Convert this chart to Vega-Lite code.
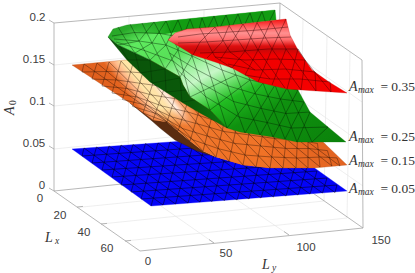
{"$schema":"https://vega.github.io/schema/vega-lite/v6.json","width":415,"height":273,"padding":0,"autosize":{"type":"none"},"background":"white","config":{"view":{"stroke":null}},
"encoding":{"x":{"field":"h","type":"quantitative","scale":{"domain":[0,415],"nice":false,"zero":false},"axis":null},"y":{"field":"v","type":"quantitative","scale":{"domain":[273,0],"nice":false,"zero":false},"axis":null}},
"layer":[
{"data":{"name":"wallgrid"},"mark":{"type":"rule","color":"#e6e6e6","strokeWidth":0.7},"encoding":{"x2":{"field":"h2"},"y2":{"field":"v2"}}},
{"data":{"name":"box"},"mark":{"type":"rule","color":"#a6a6a6","strokeWidth":0.8},"encoding":{"x2":{"field":"h2"},"y2":{"field":"v2"}}},
{"data":{"name":"ticks"},"mark":{"type":"text","font":"Liberation Sans","fontSize":11.5,"color":"#404040","baseline":"middle","align":"center"},"encoding":{"text":{"field":"t"}}},
{"data":{"name":"sBlue"},"mark":{"type":"line","fill":"#0404F8","stroke":"#0404F8","strokeWidth":0.3,"interpolate":"linear-closed"},"encoding":{"order":{"field":"o"}}},
{"data":{"name":"mBlue"},"mark":{"type":"rule","color":"#000000","opacity":0.8,"strokeWidth":0.6},"encoding":{"x2":{"field":"h2"},"y2":{"field":"v2"}}},
{"data":{"name":"sBrown"},"mark":{"type":"line","fill":"#5A2C10","stroke":"#3a1c0a","strokeWidth":0.4,"interpolate":"linear-closed"},"encoding":{"order":{"field":"o"}}},
{"data":{"name":"sOrange"},"mark":{"type":"line","stroke":"#b04a14","strokeWidth":0.3,"interpolate":"linear-closed","fill":{"gradient":"linear","x1":0,"y1":0.3,"x2":1,"y2":0,"stops":[{"offset":0,"color":"#D5561A"},{"offset":0.18,"color":"#E5641F"},{"offset":0.22,"color":"#FFB98A"},{"offset":0.25,"color":"#FFE6A6"},{"offset":0.28,"color":"#FFE3A8"},{"offset":0.31,"color":"#FFEBDD"},{"offset":0.335,"color":"#F9A468"},{"offset":0.37,"color":"#F27A30"},{"offset":0.5,"color":"#EE6E24"},{"offset":1,"color":"#D5561B"}]}},"encoding":{"order":{"field":"o"}}},
{"data":{"name":"sOrangeLow"},"mark":{"type":"line","strokeWidth":0,"interpolate":"linear-closed","fill":{"gradient":"linear","x1":0,"y1":0,"x2":0,"y2":1,"stops":[{"offset":0,"color":"rgba(240,118,42,0)"},{"offset":0.3,"color":"rgba(240,118,42,0.95)"},{"offset":1,"color":"rgba(240,112,36,1)"}]}},"encoding":{"order":{"field":"o"}}},
{"data":{"name":"mOrange"},"mark":{"type":"rule","color":"#2a1005","opacity":0.75,"strokeWidth":0.55},"encoding":{"x2":{"field":"h2"},"y2":{"field":"v2"}}},
{"data":{"name":"sGreen"},"mark":{"type":"line","stroke":"#0b7a0b","strokeWidth":0.3,"interpolate":"linear-closed","fill":{"gradient":"linear","x1":0,"y1":0,"x2":0.945,"y2":1.04,"stops":[{"offset":0,"color":"#22A022"},{"offset":0.115,"color":"#2AAA2A"},{"offset":0.19,"color":"#5FEA5F"},{"offset":0.31,"color":"#58E058"},{"offset":0.4,"color":"#A5F3A5"},{"offset":0.46,"color":"#C8F7C8"},{"offset":0.52,"color":"#7BE67B"},{"offset":0.6,"color":"#22BC22"},{"offset":0.72,"color":"#0F910F"},{"offset":1,"color":"#0B820B"}]}},"encoding":{"order":{"field":"o"}}},
{"data":{"name":"sStrip"},"mark":{"type":"line","strokeWidth":0,"interpolate":"linear-closed","fill":{"gradient":"linear","x1":0,"y1":0,"x2":1,"y2":0,"stops":[{"offset":0,"color":"rgba(18,156,18,0)"},{"offset":0.3,"color":"rgba(18,156,18,1)"},{"offset":1,"color":"rgba(18,156,18,1)"}]}},"encoding":{"order":{"field":"o"}}},
{"data":{"name":"mGreen"},"mark":{"type":"rule","color":"#002000","opacity":0.75,"strokeWidth":0.55},"encoding":{"x2":{"field":"h2"},"y2":{"field":"v2"}}},
{"data":{"name":"sDark"},"mark":{"type":"line","strokeWidth":0.3,"stroke":"#084a08","interpolate":"linear-closed","fill":{"gradient":"linear","x1":0,"y1":0,"x2":1,"y2":0,"stops":[{"offset":0,"color":"#0A520A"},{"offset":0.7,"color":"#0A5A0A"},{"offset":1,"color":"#0E7A0E"}]}},"encoding":{"order":{"field":"o"}}},
{"data":{"name":"mDark"},"mark":{"type":"rule","color":"#001800","opacity":0.55,"strokeWidth":0.5},"encoding":{"x2":{"field":"h2"},"y2":{"field":"v2"}}},
{"data":{"name":"sRed"},"mark":{"type":"line","stroke":"#cc0000","strokeWidth":0.3,"interpolate":"linear-closed","fill":{"gradient":"linear","x1":0,"y1":0,"x2":0,"y2":1,"stops":[{"offset":0,"color":"#F41010"},{"offset":0.11,"color":"#FF6060"},{"offset":0.19,"color":"#FF9090"},{"offset":0.28,"color":"#FF6A6A"},{"offset":0.365,"color":"#DD1010"},{"offset":0.42,"color":"#CC0808"},{"offset":0.49,"color":"#F00000"},{"offset":1,"color":"#F60000"}]}},"encoding":{"order":{"field":"o"}}},
{"data":{"name":"mRed"},"mark":{"type":"rule","color":"#300000","opacity":0.75,"strokeWidth":0.55},"encoding":{"x2":{"field":"h2"},"y2":{"field":"v2"}}},
{"data":{"name":"mathA"},"mark":{"type":"text","font":"Liberation Serif","fontStyle":"italic","fontSize":14,"color":"#333333","align":"left","baseline":"alphabetic"},"encoding":{"text":{"field":"t"}}},
{"data":{"name":"mathSub"},"mark":{"type":"text","font":"Liberation Serif","fontStyle":"italic","fontSize":9.5,"color":"#333333","align":"left","baseline":"alphabetic"},"encoding":{"text":{"field":"t"}}},
{"data":{"name":"mathVal"},"mark":{"type":"text","font":"Liberation Serif","fontSize":13.5,"color":"#333333","align":"right","baseline":"alphabetic"},"encoding":{"text":{"field":"t"}}},
{"data":{"name":"rotA"},"mark":{"type":"text","font":"Liberation Serif","fontStyle":"italic","fontSize":14,"color":"#333333","angle":270,"align":"left","baseline":"alphabetic"},"encoding":{"text":{"field":"t"}}},
{"data":{"name":"rotSub"},"mark":{"type":"text","font":"Liberation Serif","fontSize":9.5,"color":"#333333","angle":270,"align":"left","baseline":"alphabetic"},"encoding":{"text":{"field":"t"}}}
],
"datasets":{
"wallgrid":[
{"h":54,"v":149,"h2":277,"v2":126},{"h":54,"v":106,"h2":278,"v2":84},{"h":54,"v":65,"h2":279,"v2":43},
{"h":128,"v":183,"h2":129,"v2":16},{"h":202,"v":176,"h2":204,"v2":10},
{"h":300,"v":185,"h2":303,"v2":19},{"h":324,"v":201,"h2":327,"v2":36},{"h":347,"v":218,"h2":350,"v2":52},
{"h":277,"v":126,"h2":363,"v2":186},{"h":278,"v":84,"h2":363,"v2":144},{"h":279,"v":43,"h2":362,"v2":102},
{"h":77.5,"v":207.5,"h2":300,"v2":185},{"h":101,"v":224,"h2":324,"v2":201},{"h":125,"v":241,"h2":347,"v2":218},
{"h":128,"v":183,"h2":214,"v2":243},{"h":202,"v":176,"h2":289,"v2":235}],
"box":[
{"h":54,"v":23,"h2":54,"v2":191},{"h":54,"v":23,"h2":280,"v2":3},{"h":280,"v":3,"h2":362,"v2":60},{"h":362,"v":60,"h2":363,"v2":228},
{"h":54,"v":191,"h2":140,"v2":251},{"h":140,"v":251,"h2":363,"v2":228},{"h":54,"v":191,"h2":277,"v2":168},{"h":277,"v":168,"h2":363,"v2":228},{"h":280,"v":3,"h2":277,"v2":168},
{"h":49,"v":20,"h2":54,"v2":23},{"h":49,"v":62,"h2":54,"v2":65},{"h":49,"v":103,"h2":54,"v2":106},{"h":49,"v":146,"h2":54,"v2":149},{"h":49,"v":188,"h2":54,"v2":191},
{"h":77,"v":207,"h2":83,"v2":206.4},{"h":101,"v":224,"h2":107,"v2":223.4},{"h":125,"v":241,"h2":131,"v2":240.4},
{"h":214,"v":243,"h2":209,"v2":239.5},{"h":289,"v":235,"h2":284,"v2":231.5}],
"ticks":[
{"h":37.5,"v":17.5,"t":"0.2"},{"h":34,"v":60,"t":"0.15"},{"h":37.5,"v":102,"t":"0.1"},{"h":34,"v":144,"t":"0.05"},{"h":42,"v":186,"t":"0"},
{"h":40,"v":199,"t":"0"},{"h":60,"v":216,"t":"20"},{"h":84,"v":233,"t":"40"},{"h":107,"v":249,"t":"60"},
{"h":148,"v":262,"t":"0"},{"h":226,"v":254,"t":"50"},{"h":306,"v":248,"t":"100"},{"h":381,"v":241,"t":"150"}],
"sBlue":[{"o":1,"h":72,"v":149},{"o":2,"h":268,"v":135},{"o":3,"h":347,"v":191},{"o":4,"h":151,"v":206}],
"mBlue":[
{"h":82,"v":156,"h2":278,"v2":142},{"h":92,"v":163,"h2":288,"v2":149},{"h":102,"v":170,"h2":298,"v2":157},{"h":112,"v":177,"h2":308,"v2":164},{"h":121,"v":185,"h2":317,"v2":171},{"h":131,"v":192,"h2":327,"v2":178},{"h":141,"v":199,"h2":337,"v2":185},
{"h":84,"v":148,"h2":163,"v2":205},{"h":96.5,"v":147,"h2":175.5,"v2":204},{"h":109,"v":146,"h2":188,"v2":203},{"h":121,"v":145,"h2":200,"v2":202},{"h":133,"v":144.5,"h2":212,"v2":201.5},{"h":145.5,"v":143.5,"h2":224.5,"v2":200.5},{"h":158,"v":143,"h2":237,"v2":200},{"h":170,"v":142,"h2":249,"v2":199},{"h":182,"v":141,"h2":261,"v2":198},{"h":194.5,"v":140,"h2":273.5,"v2":197},{"h":207,"v":139,"h2":286,"v2":196},{"h":219,"v":138,"h2":298,"v2":195},{"h":231,"v":137,"h2":310,"v2":194},{"h":243.5,"v":136,"h2":322.5,"v2":193},{"h":256,"v":135.5,"h2":335,"v2":192.5},
{"h":82,"v":156,"h2":84,"v2":148},{"h":92,"v":163,"h2":96.5,"v2":147},{"h":102,"v":170,"h2":109,"v2":146},{"h":112,"v":177,"h2":121,"v2":145},{"h":121,"v":185,"h2":133,"v2":144.5},{"h":131,"v":192,"h2":145.5,"v2":143.5},{"h":141,"v":199,"h2":158,"v2":143},
{"h":151,"v":206,"h2":170,"v2":142},{"h":163,"v":205,"h2":182,"v2":141},{"h":175.5,"v":204,"h2":194.5,"v2":140},{"h":188,"v":203,"h2":207,"v2":139},{"h":200,"v":202,"h2":219,"v2":138},{"h":212,"v":201.5,"h2":231,"v2":137},{"h":224.5,"v":200.5,"h2":243.5,"v2":136},{"h":237,"v":200,"h2":256,"v2":135.5},{"h":249,"v":199,"h2":268,"v2":135},
{"h":261,"v":198,"h2":278,"v2":142},{"h":273.5,"v":197,"h2":288,"v2":149},{"h":286,"v":196,"h2":298,"v2":157},{"h":298,"v":195,"h2":308,"v2":164},{"h":310,"v":194,"h2":317,"v2":171},{"h":322.5,"v":193,"h2":327,"v2":178},{"h":335,"v":192.5,"h2":337,"v2":185}],
"sBrown":[{"o":1,"h":130,"v":103},{"o":2,"h":153,"v":119},{"o":3,"h":167,"v":122},{"o":4,"h":190,"v":141},{"o":5,"h":216,"v":157},{"o":6,"h":197,"v":151},{"o":7,"h":175,"v":140},{"o":8,"h":160,"v":128},{"o":9,"h":152,"v":121}],
"sOrange":[{"o":1,"h":72,"v":65},{"o":2,"h":125,"v":60},{"o":3,"h":200,"v":60},{"o":4,"h":295,"v":115},{"o":5,"h":347,"v":165},{"o":6,"h":314,"v":168},{"o":7,"h":270,"v":168},{"o":8,"h":243,"v":165},{"o":9,"h":216,"v":157},{"o":10,"h":203,"v":151},{"o":11,"h":190,"v":141},{"o":12,"h":178,"v":131},{"o":13,"h":167,"v":122},{"o":14,"h":153,"v":120},{"o":15,"h":130,"v":103}],
"sOrangeLow":[{"o":1,"h":150,"v":108},{"o":2,"h":178,"v":108},{"o":3,"h":215,"v":118},{"o":4,"h":262,"v":135},{"o":5,"h":270,"v":168},{"o":6,"h":243,"v":165},{"o":7,"h":216,"v":157},{"o":8,"h":203,"v":151},{"o":9,"h":190,"v":141},{"o":10,"h":178,"v":131},{"o":11,"h":167,"v":122},{"o":12,"h":153,"v":120}],
"mOrange":[
{"h":82,"v":72,"h2":107,"v2":71.5},{"h":107,"v":71.5,"h2":131,"v2":72},{"h":131,"v":72,"h2":156,"v2":74},
{"h":92,"v":79,"h2":117,"v2":80},{"h":117,"v":80,"h2":141.5,"v2":83.5},{"h":141.5,"v":83.5,"h2":167,"v2":87},
{"h":102,"v":86,"h2":127,"v2":88.5},{"h":127,"v":88.5,"h2":152,"v2":95},{"h":152,"v":95,"h2":177,"v2":99},
{"h":112,"v":93,"h2":137,"v2":97},{"h":137,"v":97,"h2":162,"v2":106},{"h":162,"v":106,"h2":188,"v2":112},{"h":188,"v":112,"h2":213,"v2":120},{"h":213,"v":120,"h2":239,"v2":124},
{"h":122.5,"v":99.5,"h2":147.5,"v2":105.5},{"h":147.5,"v":105.5,"h2":172,"v2":117},{"h":172,"v":117,"h2":198,"v2":124},{"h":198,"v":124,"h2":224,"v2":131.5},{"h":224,"v":131.5,"h2":250,"v2":135},{"h":250,"v":135,"h2":274.5,"v2":138.5},{"h":274.5,"v":138.5,"h2":298.5,"v2":140},{"h":298.5,"v":140,"h2":317.5,"v2":143.5},
{"h":132.6,"v":106.4,"h2":157.6,"v2":114},{"h":157.6,"v":114,"h2":182.5,"v2":128.5},{"h":182.5,"v":128.5,"h2":208.4,"v2":136.4},{"h":208.4,"v":136.4,"h2":234.5,"v2":143.4},{"h":234.5,"v":143.4,"h2":261,"v2":146},{"h":261,"v":146,"h2":285.6,"v2":148.4},{"h":285.6,"v":148.4,"h2":309.6,"v2":148.6},{"h":309.6,"v":148.6,"h2":327.4,"v2":150.6},
{"h":143,"v":113,"h2":168,"v2":122.5},{"h":168,"v":122.5,"h2":192.8,"v2":139.8},{"h":192.8,"v":139.8,"h2":218.8,"v2":148.8},{"h":218.8,"v":148.8,"h2":245.3,"v2":155.1},{"h":245.3,"v":155.1,"h2":272,"v2":157},{"h":272,"v":157,"h2":297,"v2":158},{"h":297,"v":158,"h2":320.7,"v2":157},{"h":320.7,"v":157,"h2":337,"v2":157.9},
{"h":84,"v":64,"h2":167,"v2":122},{"h":97,"v":63,"h2":178,"v2":131},{"h":109,"v":62,"h2":190,"v2":141},{"h":121,"v":61,"h2":203,"v2":151},{"h":134,"v":60,"h2":216,"v2":157},{"h":146,"v":62,"h2":229,"v2":161},{"h":158,"v":68,"h2":243,"v2":165},{"h":170,"v":72,"h2":256,"v2":167},{"h":182,"v":76,"h2":270,"v2":168},{"h":195,"v":80,"h2":283,"v2":168},{"h":207,"v":84,"h2":296,"v2":168},{"h":219,"v":89,"h2":308,"v2":168},{"h":231,"v":93,"h2":320,"v2":167},{"h":243,"v":97,"h2":332,"v2":166},{"h":255,"v":102,"h2":340,"v2":166},
{"h":82,"v":72,"h2":84,"v2":64},{"h":92,"v":79,"h2":97,"v2":63},{"h":102,"v":86,"h2":109,"v2":62},{"h":112,"v":93,"h2":121,"v2":61},{"h":122.5,"v":99.5,"h2":134,"v2":60},{"h":132.6,"v":106.4,"h2":146,"v2":62},{"h":143,"v":113,"h2":158,"v2":68},{"h":153,"v":120,"h2":170,"v2":72},{"h":167,"v":122,"h2":182,"v2":76},{"h":178,"v":131,"h2":195,"v2":80},{"h":190,"v":141,"h2":207,"v2":84},{"h":203,"v":151,"h2":219,"v2":89},{"h":216,"v":157,"h2":231,"v2":93},{"h":229,"v":161,"h2":243,"v2":97},{"h":243,"v":165,"h2":255,"v2":102},{"h":256,"v":167,"h2":268,"v2":108},{"h":270,"v":168,"h2":278,"v2":115},{"h":283,"v":168,"h2":288,"v2":122},{"h":296,"v":168,"h2":298,"v2":129},{"h":308,"v":168,"h2":308,"v2":136.5},{"h":320,"v":167,"h2":317.5,"v2":143.5},{"h":332,"v":166,"h2":327.4,"v2":150.6},{"h":340,"v":166,"h2":337,"v2":158}],
"sGreen":[{"o":1,"h":108,"v":37},{"o":2,"h":113,"v":29},{"o":3,"h":127,"v":25},{"o":4,"h":275,"v":10},{"o":5,"h":276,"v":19},{"o":6,"h":298,"v":90},{"o":7,"h":310,"v":112},{"o":8,"h":346,"v":142},{"o":9,"h":297,"v":142},{"o":10,"h":273,"v":137},{"o":11,"h":240,"v":132},{"o":12,"h":227,"v":128},{"o":13,"h":210,"v":110},{"o":14,"h":190,"v":97},{"o":15,"h":183,"v":85},{"o":16,"h":180,"v":77},{"o":17,"h":150,"v":60},{"o":18,"h":118,"v":45}],
"sStrip":[{"o":1,"h":127,"v":25},{"o":2,"h":275,"v":10},{"o":3,"h":276,"v":20},{"o":4,"h":187,"v":30},{"o":5,"h":165,"v":34},{"o":6,"h":140,"v":33}],
"mGreen":[
{"h":112,"v":36,"h2":134.5,"v2":32.5},{"h":134.5,"v":32.5,"h2":160,"v2":33.5},{"h":160,"v":33.5,"h2":185,"v2":38},
{"h":114,"v":39,"h2":139,"v2":41},{"h":139,"v":41,"h2":166,"v2":45},{"h":166,"v":45,"h2":192,"v2":56},{"h":192,"v":56,"h2":222,"v2":70},{"h":222,"v":70,"h2":250,"v2":80},{"h":250,"v":80,"h2":275,"v2":85},{"h":275,"v":85,"h2":298,"v2":90},
{"h":169.5,"v":53,"h2":196.5,"v2":69.5},{"h":196.5,"v":69.5,"h2":227.8,"v2":85.8},{"h":227.8,"v":85.8,"h2":255.8,"v2":94},{"h":255.8,"v":94,"h2":280.5,"v2":99},{"h":280.5,"v":99,"h2":304,"v2":102},
{"h":116,"v":42,"h2":144.5,"v2":50.5},{"h":144.5,"v":50.5,"h2":173,"v2":61},{"h":173,"v":61,"h2":201,"v2":83},{"h":201,"v":83,"h2":233.5,"v2":101.5},{"h":233.5,"v":101.5,"h2":261.5,"v2":108.5},{"h":261.5,"v":108.5,"h2":286,"v2":113.5},{"h":286,"v":113.5,"h2":310,"v2":112},
{"h":176.5,"v":69,"h2":205.5,"v2":96.5},{"h":205.5,"v":96.5,"h2":239,"v2":117},{"h":239,"v":117,"h2":267,"v2":122.5},{"h":267,"v":122.5,"h2":291.5,"v2":128},{"h":291.5,"v":128,"h2":328,"v2":127},
{"h":118,"v":27,"h2":126,"v2":40},{"h":126,"v":40,"h2":135,"v2":53},{"h":130,"v":24,"h2":139,"v2":41},{"h":139,"v":41,"h2":150,"v2":60},{"h":142,"v":23,"h2":152,"v2":43},{"h":152,"v":43,"h2":165,"v2":69},{"h":154,"v":22,"h2":166,"v2":45},{"h":166,"v":45,"h2":180,"v2":77},{"h":166,"v":21,"h2":178,"v2":50},{"h":178,"v":50,"h2":190,"v2":97},{"h":178,"v":20,"h2":192,"v2":56},{"h":192,"v":56,"h2":210,"v2":110},{"h":190,"v":19,"h2":206,"v2":62},{"h":206,"v":62,"h2":227,"v2":128},{"h":202,"v":18,"h2":222,"v2":70},{"h":222,"v":70,"h2":245,"v2":133},{"h":214,"v":16,"h2":236,"v2":75},{"h":236,"v":75,"h2":260,"v2":135},{"h":226,"v":15,"h2":250,"v2":80},{"h":250,"v":80,"h2":273,"v2":137},{"h":238,"v":14,"h2":263,"v2":83},{"h":263,"v":83,"h2":285,"v2":139},{"h":250,"v":13,"h2":275,"v2":85},{"h":275,"v":85,"h2":297,"v2":142},{"h":262,"v":11.5,"h2":287,"v2":88},{"h":287,"v":88,"h2":312,"v2":142},
{"h":118,"v":45,"h2":139,"v2":41},{"h":139,"v":41,"h2":154,"v2":22},{"h":135,"v":53,"h2":152,"v2":43},{"h":152,"v":43,"h2":166,"v2":21},{"h":150,"v":60,"h2":166,"v2":45},{"h":166,"v":45,"h2":178,"v2":20},{"h":165,"v":69,"h2":178,"v2":50},{"h":178,"v":50,"h2":190,"v2":19},{"h":180,"v":77,"h2":192,"v2":56},{"h":192,"v":56,"h2":202,"v2":18},
{"h":214,"v":16,"h2":208,"v2":28},{"h":226,"v":15,"h2":220,"v2":28},{"h":238,"v":14,"h2":232,"v2":27},{"h":250,"v":13,"h2":244,"v2":26},{"h":262,"v":11.5,"h2":256,"v2":25},{"h":275,"v":10,"h2":268,"v2":24},
{"h":190,"v":97,"h2":236,"v2":75},{"h":210,"v":110,"h2":250,"v2":80},{"h":227,"v":128,"h2":263,"v2":83},{"h":245,"v":133,"h2":275,"v2":85},{"h":260,"v":135,"h2":287,"v2":88},{"h":273,"v":137,"h2":298,"v2":90},{"h":285,"v":139,"h2":304,"v2":102},{"h":297,"v":142,"h2":310,"v2":112},{"h":312,"v":142,"h2":328,"v2":127}],
"sDark":[{"o":1,"h":108,"v":37},{"o":2,"h":118,"v":45},{"o":3,"h":150,"v":60},{"o":4,"h":180,"v":77},{"o":5,"h":183,"v":85},{"o":6,"h":190,"v":97},{"o":7,"h":210,"v":110},{"o":8,"h":227,"v":128},{"o":9,"h":200,"v":113},{"o":10,"h":183,"v":103},{"o":11,"h":150,"v":82},{"o":12,"h":127,"v":60}],
"mDark":[{"h":120,"v":46,"h2":128,"v2":60},{"h":135,"v":53,"h2":140,"v2":73},{"h":150,"v":60,"h2":152,"v2":83},{"h":165,"v":69,"h2":166,"v2":92},{"h":180,"v":78,"h2":182,"v2":102},{"h":128,"v":60,"h2":150,"v2":60},{"h":140,"v":73,"h2":165,"v2":69},{"h":152,"v":83,"h2":180,"v2":78},{"h":166,"v":92,"h2":186,"v2":90},{"h":182,"v":102,"h2":195,"v2":100}],
"sRed":[{"o":1,"h":168,"v":40},{"o":2,"h":175,"v":33},{"o":3,"h":187,"v":29},{"o":4,"h":215,"v":27},{"o":5,"h":286,"v":19},{"o":6,"h":290,"v":35},{"o":7,"h":298,"v":50},{"o":8,"h":312,"v":70},{"o":9,"h":329,"v":82},{"o":10,"h":347,"v":93},{"o":11,"h":287,"v":89},{"o":12,"h":258,"v":82},{"o":13,"h":232,"v":68},{"o":14,"h":215,"v":62},{"o":15,"h":193,"v":55},{"o":16,"h":180,"v":47}],
"mRed":[
{"h":178,"v":37,"h2":200,"v2":34},{"h":200,"v":34,"h2":230,"v2":32},{"h":230,"v":32,"h2":258,"v2":30},{"h":258,"v":30,"h2":288,"v2":27},
{"h":178,"v":43,"h2":205,"v2":42},{"h":205,"v":42,"h2":235,"v2":40},{"h":235,"v":40,"h2":265,"v2":38},{"h":265,"v":38,"h2":291,"v2":37},
{"h":200,"v":53,"h2":230,"v2":52},{"h":230,"v":52,"h2":268,"v2":49},{"h":268,"v":49,"h2":298,"v2":49},
{"h":215,"v":57,"h2":245,"v2":60},{"h":245,"v":60,"h2":275,"v2":59},{"h":275,"v":59,"h2":305,"v2":60},
{"h":228,"v":64,"h2":255,"v2":70},{"h":255,"v":70,"h2":285,"v2":69},{"h":285,"v":69,"h2":315,"v2":72},
{"h":245,"v":75,"h2":270,"v2":79},{"h":270,"v":79,"h2":300,"v2":79},{"h":300,"v":79,"h2":330,"v2":82},
{"h":200,"v":28,"h2":215,"v2":57},{"h":215,"v":57,"h2":232,"v2":68},{"h":215,"v":27,"h2":230,"v2":52},{"h":230,"v":52,"h2":255,"v2":70},{"h":229,"v":25.5,"h2":245,"v2":51},{"h":245,"v":51,"h2":270,"v2":79},{"h":243,"v":24,"h2":258,"v2":50},{"h":258,"v":50,"h2":285,"v2":88},{"h":257,"v":22.5,"h2":272,"v2":49},{"h":272,"v":49,"h2":301,"v2":90},{"h":271,"v":21,"h2":286,"v2":49},{"h":286,"v":49,"h2":316,"v2":91},{"h":305,"v":60,"h2":331,"v2":92},{"h":298,"v":49,"h2":305,"v2":60},
{"h":193,"v":55,"h2":200,"v2":42},{"h":200,"v":42,"h2":215,"v2":27},{"h":207,"v":58,"h2":222,"v2":42},{"h":222,"v":42,"h2":229,"v2":25.5},{"h":220,"v":60,"h2":232,"v2":42},{"h":232,"v":42,"h2":243,"v2":24},{"h":232,"v":68,"h2":245,"v2":51},{"h":245,"v":51,"h2":257,"v2":22.5},{"h":245,"v":75,"h2":258,"v2":50},{"h":258,"v":50,"h2":271,"v2":21},{"h":258,"v":82,"h2":272,"v2":49},{"h":272,"v":49,"h2":286,"v2":19},{"h":272,"v":85,"h2":286,"v2":49},{"h":287,"v":89,"h2":298,"v2":49},{"h":301,"v":90,"h2":305,"v2":60},{"h":316,"v":91,"h2":315,"v2":72},{"h":331,"v":92,"h2":330,"v2":82}],
"mathA":[{"h":349,"v":91,"t":"A"},{"h":349,"v":141,"t":"A"},{"h":349,"v":165,"t":"A"},{"h":349,"v":193,"t":"A"},{"h":45,"v":242,"t":"L"},{"h":262,"v":269,"t":"L"}],
"mathSub":[{"h":358,"v":93,"t":"max"},{"h":358,"v":143,"t":"max"},{"h":358,"v":167,"t":"max"},{"h":358,"v":195,"t":"max"},{"h":55,"v":244,"t":"x"},{"h":272,"v":271,"t":"y"}],
"mathVal":[{"h":415,"v":91,"t":"= 0.35"},{"h":415,"v":141,"t":"= 0.25"},{"h":415,"v":165,"t":"= 0.15"},{"h":415,"v":193,"t":"= 0.05"}],
"rotA":[{"h":14,"v":115,"t":"A"}],
"rotSub":[{"h":16,"v":105,"t":"0"}]
}}
